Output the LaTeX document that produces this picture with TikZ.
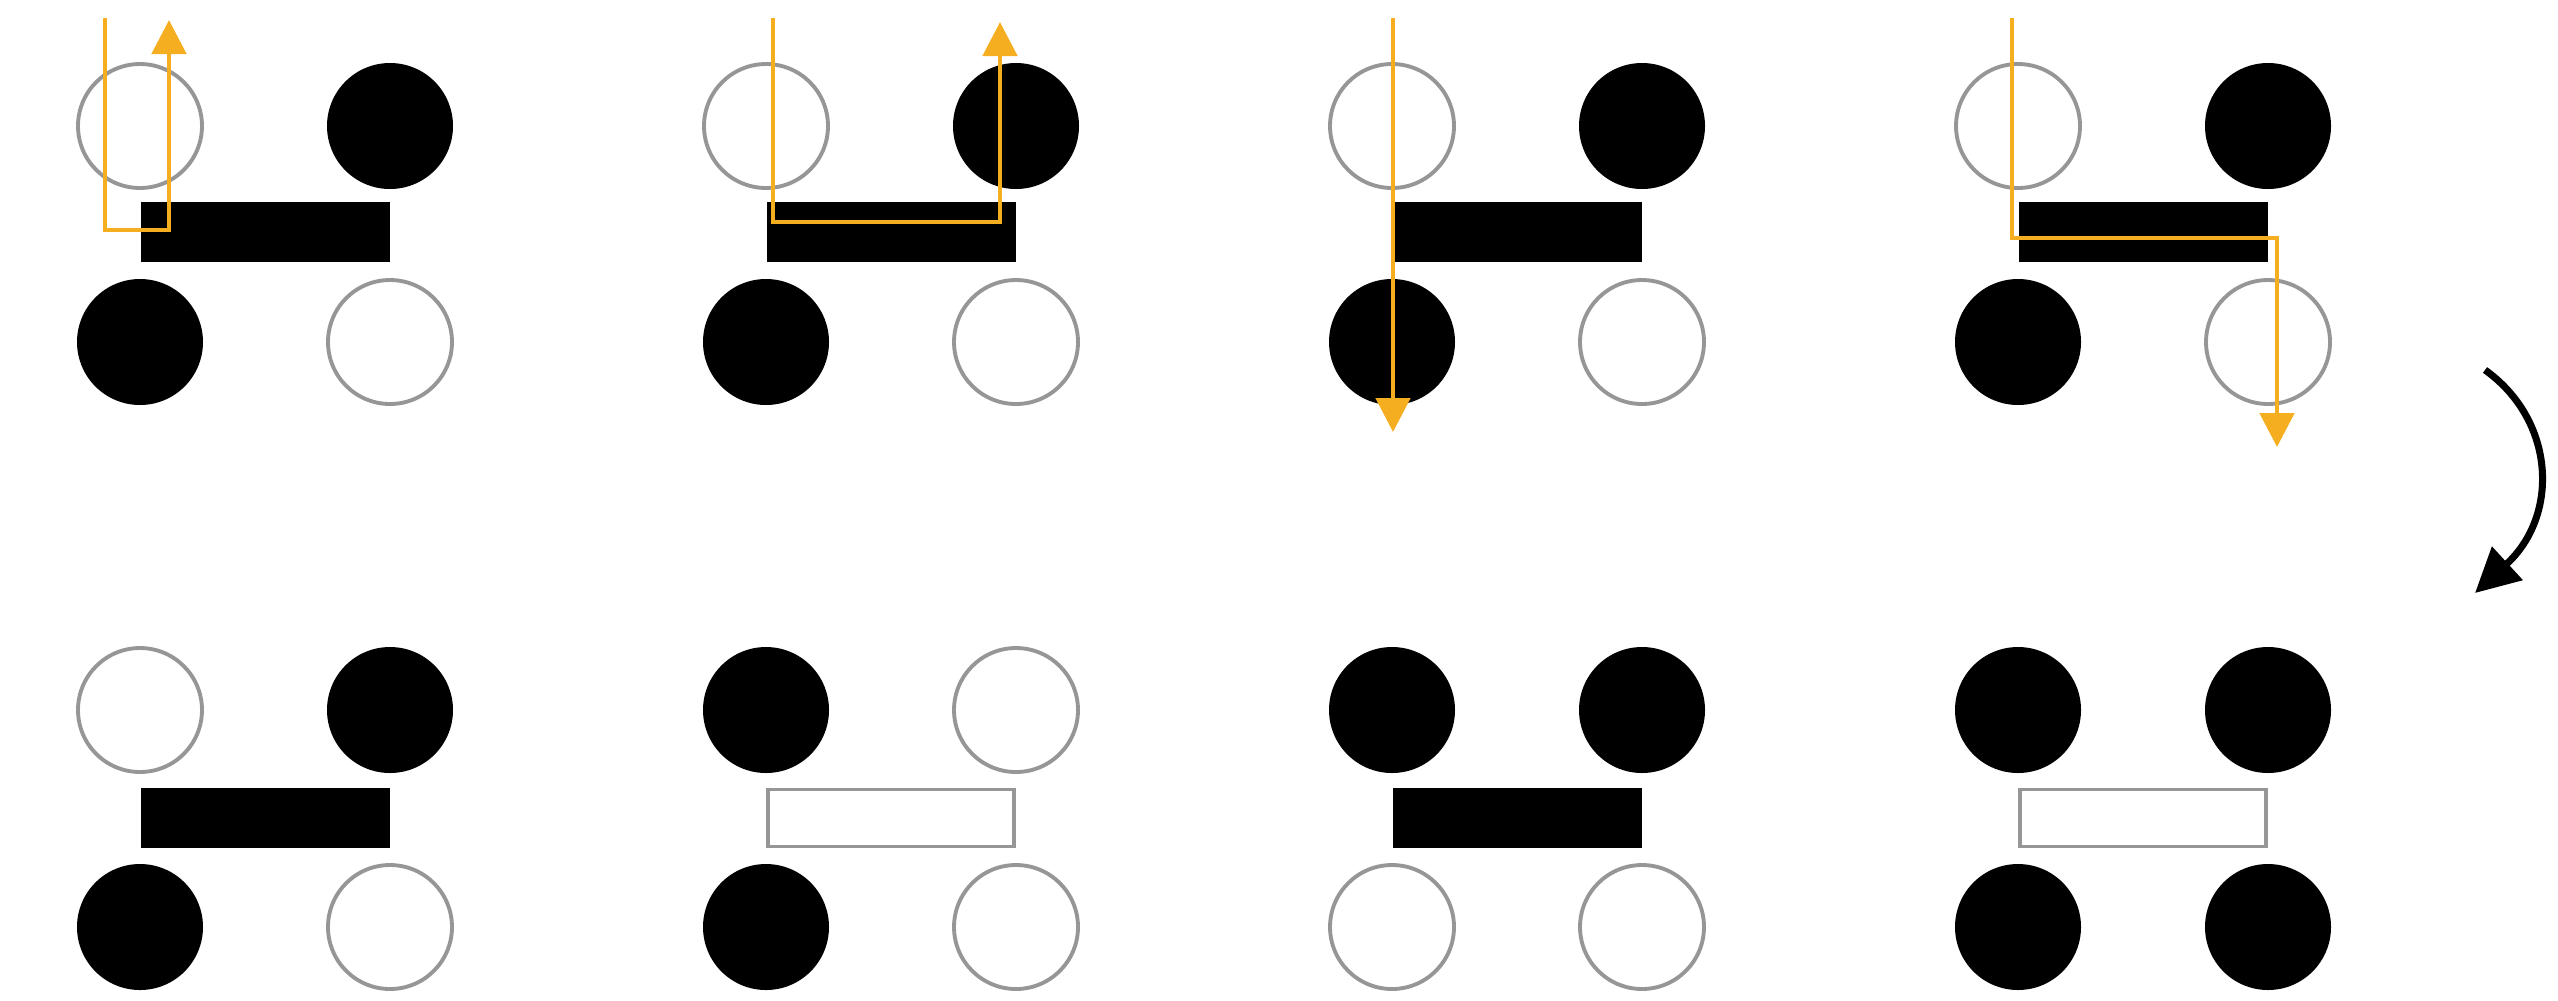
\documentclass[tikz,border=0pt]{standalone}
\usetikzlibrary{arrows.meta}
\definecolor{trackorange}{RGB}{245,174,32}
\definecolor{rimgray}{RGB}{150,150,150}
\tikzset{
  disc/.style={circle, fill=black, minimum size=12.6mm, inner sep=0pt},
  ring/.style={circle, draw=rimgray, line width=1.1pt, fill=white, minimum size=12.4mm, inner sep=0pt},
  slab/.style={rectangle, fill=black, minimum width=24.9mm, minimum height=6mm, inner sep=0pt},
  slabopen/.style={rectangle, draw=rimgray, line width=1.1pt, minimum width=24.6mm, minimum height=5.7mm, inner sep=0pt},
  track/.style={draw=trackorange, line width=1.4pt, -{Triangle[width=3.4mm,length=3.4mm]}},
  turn/.style={line width=2pt, -{Triangle[width=4.4mm,length=4.4mm]}}
}
\begin{document}
\begin{tikzpicture}[x=0.1mm, y=-0.1mm]
    \useasboundingbox (0,0) rectangle (2558,1000);
    % top row: the same board four times
    \foreach \i [evaluate=\i as \xa using {140+626*(\i-1)}] in {1,...,4} {
        \node[ring] (tl\i) at (\xa,126) {};
        \node[disc] (tr\i) at (\xa+250,126) {};
        \node[slab] (mid\i) at (\xa+125,232) {};
        \node[disc] (bl\i) at (\xa,342) {};
        \node[ring] (br\i) at (\xa+250,342) {};
    }
    % bottom row
    \foreach \i/\a/\b/\c/\d/\e [evaluate=\i as \xa using {140+626*(\i-1)}] in
        {1/ring/disc/slab/disc/ring, 2/disc/ring/slabopen/disc/ring,
         3/disc/disc/slab/ring/ring, 4/disc/disc/slabopen/disc/disc} {
        \node[\a] (ltl\i) at (\xa,710) {};
        \node[\b] (ltr\i) at (\xa+250,710) {};
        \node[\c] (lmid\i) at (\xa+125,818) {};
        \node[\d] (lbl\i) at (\xa,927) {};
        \node[\e] (lbr\i) at (\xa+250,927) {};
    }
    % orange tracks
    \coordinate (in1) at (105,18);
    \coordinate (out1) at (169,20);
    \coordinate (in2) at (773,18);
    \coordinate (out2) at (1000,22);
    \coordinate (in3) at (1393,18);
    \coordinate (out3) at (1393,432);
    \coordinate (in4) at (2012,18);
    \coordinate (out4) at (2277,447);
    \draw[track] (in1) -- ++(0,212) -| (out1);
    \draw[track] (in2) -- ++(0,204) -| (out2);
    \draw[track] (in3) -- (out3);
    \draw[track] (in4) -- ++(0,220) -| (out4);
    % turn arrow
    \coordinate (r1) at (2485,370);
    \coordinate (r2) at (2475,593);
    \draw[turn] (r1) .. controls (2555,420) and (2560,515) .. (r2);
\end{tikzpicture}
\end{document}
